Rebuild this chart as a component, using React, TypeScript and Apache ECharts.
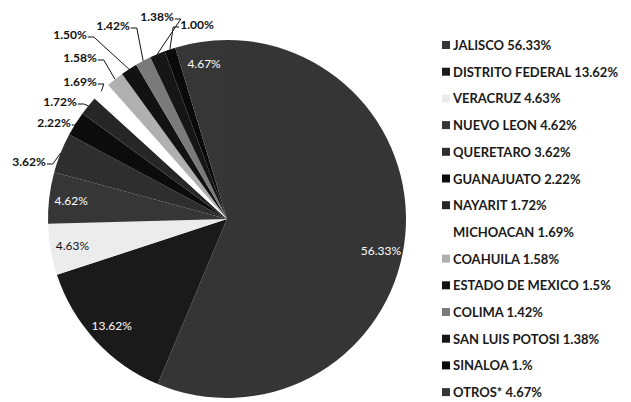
import React, { useEffect, useRef } from "react";
import * as echarts from "echarts";

const names = [
  "JALISCO",
  "DISTRITO FEDERAL",
  "VERACRUZ",
  "NUEVO LEON",
  "QUERETARO",
  "GUANAJUATO",
  "NAYARIT",
  "MICHOACAN",
  "COAHUILA",
  "ESTADO DE MEXICO",
  "COLIMA",
  "SAN LUIS POTOSI",
  "SINALOA",
  "OTROS*",
];
const values = [56.33, 13.62, 4.63, 4.62, 3.62, 2.22, 1.72, 1.69, 1.58, 1.5, 1.42, 1.38, 1.0, 4.67];
const legendLabels = [
  "JALISCO 56.33%",
  "DISTRITO FEDERAL 13.62%",
  "VERACRUZ 4.63%",
  "NUEVO LEON 4.62%",
  "QUERETARO 3.62%",
  "GUANAJUATO 2.22%",
  "NAYARIT 1.72%",
  "MICHOACAN 1.69%",
  "COAHUILA 1.58%",
  "ESTADO DE MEXICO 1.5%",
  "COLIMA 1.42%",
  "SAN LUIS POTOSI 1.38%",
  "SINALOA 1.%",
  "OTROS* 4.67%",
];
const insideLabel = [true, true, true, true, false, false, false, false, false, false, false, false, false, true];
const colors = [
  "#353535",
  "#1a1a1a",
  "#ececec",
  "#363636",
  "#2e2e2e",
  "#0c0c0c",
  "#262626",
  "#ffffff",
  "#b0b0b0",
  "#121212",
  "#7a7a7a",
  "#161616",
  "#0a0a0a",
  "#363636",
];

// Layout of the outside labels (label centre, and which side the leader leaves from)
const outsideLabelPos: Record<number, [number, number, "left" | "right"]> = {
  4: [29, 161, "right"],
  5: [54, 122, "right"],
  6: [60, 101, "right"],
  7: [80, 81, "right"],
  8: [80, 57, "right"],
  9: [70, 34, "right"],
  10: [113, 25, "right"],
  11: [157, 16, "right"],
  12: [197, 24, "left"],
};

const FONT = "Lato, 'Open Sans', sans-serif";

export default function App() {
  const ref = useRef<HTMLDivElement>(null);
  useEffect(() => {
    document.body.style.margin = "0";
    const chart = echarts.init(ref.current!, null, { renderer: "svg" });
    const R = 179;
    const center = [227, 219];
    const mainData = names.map((n, i) => ({
      name: n,
      value: values[i],
      itemStyle: { color: colors[i] },
      label: { show: !insideLabel[i] },
      labelLine: { show: !insideLabel[i] },
    }));
    const overlayData = names.map((n, i) => ({
      name: n,
      value: values[i],
      label: {
        show: insideLabel[i],
        color: i === 2 ? "#111" : "#fff",
      },
    }));
    chart.setOption({
      animation: false,
      backgroundColor: "#fff",
      legend: {
        orient: "vertical",
        left: 442,
        top: 38,
        padding: 0,
        height: 364,
        data: names,
        icon: "rect",
        itemWidth: 8,
        itemHeight: 8,
        itemGap: 12.7,
        formatter: (name: string) => legendLabels[names.indexOf(name)],
        textStyle: {
          fontFamily: FONT,
          fontSize: 13,
          fontWeight: "bold",
          color: "#1a1a1a",
          lineHeight: 14,
          padding: [0, 0, 0, -2],
        },
        selectedMode: false,
      },
      series: [
        {
          type: "pie",
          center,
          radius: R,
          startAngle: 90,
          clockwise: true,
          silent: true,
          avoidLabelOverlap: false,
          data: mainData,
          label: {
            position: "outside",
            formatter: (p: any) => p.value.toFixed(2) + "%",
            fontFamily: FONT,
            fontSize: 12,
            fontWeight: "bold",
            color: "#111",
          },
          labelLine: {
            length: 8,
            length2: 8,
            lineStyle: { color: "#111", width: 1 },
          },
          labelLayout: (params: any) => {
            const pos = outsideLabelPos[params.dataIndex];
            if (!pos || !params.labelLinePoints) return {};
            const [x, y, side] = pos;
            const w = params.labelRect.width;
            const anchor = params.labelLinePoints[0];
            const ex = side === "right" ? x + w / 2 + 1 : x - w / 2 - 1;
            const kx = side === "right" ? ex + 6 : ex - 6;
            const ly = y + 3;
            return {
              x,
              y,
              align: "center",
              verticalAlign: "middle",
              labelLinePoints: [anchor, [kx, ly], [ex, ly]],
            };
          },
          emphasis: { disabled: true },
        },
        {
          type: "pie",
          center,
          radius: R * 1.72,
          startAngle: 90,
          clockwise: true,
          silent: true,
          data: overlayData,
          itemStyle: { color: "rgba(0,0,0,0)" },
          label: {
            position: "inside",
            formatter: (p: any) => p.value.toFixed(2) + "%",
            fontFamily: FONT,
            fontSize: 12,
          },
          labelLine: { show: false },
          emphasis: { disabled: true },
        },
      ],
    });
    return () => chart.dispose();
  }, []);
  return <div ref={ref} style={{ position: "fixed", left: 0, top: 0, width: 631, height: 402 }} />;
}
